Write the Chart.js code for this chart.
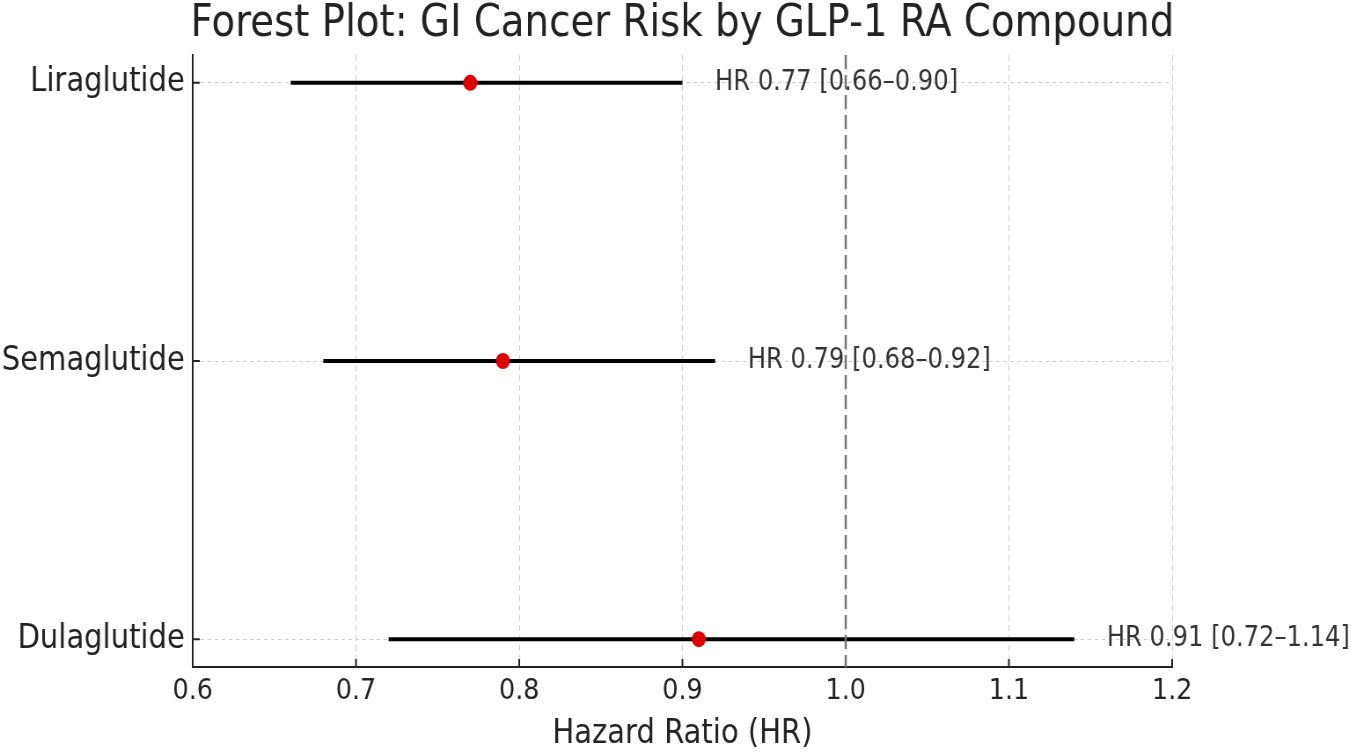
<!DOCTYPE html>
<html>
<head>
<meta charset="utf-8">
<title>Forest Plot: GI Cancer Risk by GLP-1 RA Compound</title>
<script src="https://cdn.jsdelivr.net/npm/chart.js@4.4.1/dist/chart.umd.min.js"></script>
<style>
    html, body { margin: 0; padding: 0; background: #fff; overflow: hidden; }
    /* the source figure is squeezed sideways, so draw wide and scale down */
    #wrap { width: 1535px; height: 754px; transform: scaleX(0.88); transform-origin: 0 0; }
</style>
</head>
<body>
<div id="wrap"><canvas id="forestChart" width="1535" height="754"></canvas></div>
<script>
// =====================
// Data
// =====================
const drugs = ['Liraglutide', 'Semaglutide', 'Dulaglutide'];
const hazardRatios = [0.77, 0.79, 0.91];
const ciLower = [0.66, 0.68, 0.72];
const ciUpper = [0.90, 0.92, 1.14];
const xTicks = [0.6, 0.7, 0.8, 0.9, 1.0, 1.1, 1.2];
const nullLine = 1.0;

const chartTitle = 'Forest Plot: GI Cancer Risk by GLP-1 RA Compound';
const FONT = "'DejaVu Sans', 'Liberation Sans', sans-serif";
const TEXT = '#222222';

// =====================
// Datasets
// =====================
function buildDatasets() {
    const ciSets = drugs.map((name, i) => ({
        type: 'line',
        label: name + ' CI',
        data: [{ x: ciLower[i], y: i }, { x: ciUpper[i], y: i }],
        borderColor: '#000000',
        borderWidth: 4,
        pointRadius: 0,
        order: 3
    }));

    const refLine = {
        type: 'line',
        label: 'HR = 1',
        data: [{ x: nullLine, y: -0.1 }, { x: nullLine, y: drugs.length - 1 + 0.1 }],
        borderColor: '#777777',
        borderWidth: 2.5,
        borderDash: [14, 6],
        pointRadius: 0,
        order: 2
    };

    const points = {
        type: 'scatter',
        label: 'HR',
        data: hazardRatios.map((hr, i) => ({ x: hr, y: i })),
        backgroundColor: '#dd0000',
        borderWidth: 0,
        pointRadius: 8,
        order: 1
    };

    return [...ciSets, refLine, points];
}

// =====================
// Plugins
// =====================
// title centred over the plot area, not the whole canvas
const plotTitle = {
    id: 'plotTitle',
    afterDraw(chart) {
        const { ctx, chartArea } = chart;
        ctx.save();
        ctx.font = '44px ' + FONT;
        ctx.fillStyle = TEXT;
        ctx.textAlign = 'center';
        ctx.textBaseline = 'middle';
        ctx.fillText(chartTitle, (chartArea.left + chartArea.right) / 2, 25);
        ctx.restore();
    }
};

// short inward tick marks, like the source
const innerTicks = {
    id: 'innerTicks',
    beforeDatasetsDraw(chart) {
        const { ctx, chartArea, scales } = chart;
        ctx.save();
        ctx.strokeStyle = TEXT;
        ctx.lineWidth = 2;
        ctx.beginPath();
        xTicks.forEach(v => {
            const x = scales.x.getPixelForValue(v);
            ctx.moveTo(x, chartArea.bottom);
            ctx.lineTo(x, chartArea.bottom - 8);
        });
        drugs.forEach((d, i) => {
            const y = scales.y.getPixelForValue(i);
            ctx.moveTo(chartArea.left, y);
            ctx.lineTo(chartArea.left + 8, y);
        });
        ctx.stroke();
        ctx.restore();
    }
};

// text next to each interval
const hrLabels = {
    id: 'hrLabels',
    afterDatasetsDraw(chart) {
        const { ctx, scales } = chart;
        ctx.save();
        ctx.font = '27.5px ' + FONT;
        ctx.fillStyle = '#333333';
        ctx.textAlign = 'left';
        ctx.textBaseline = 'middle';
        drugs.forEach((name, i) => {
            const text = 'HR ' + hazardRatios[i].toFixed(2) +
                ' [' + ciLower[i].toFixed(2) + '\u2013' + ciUpper[i].toFixed(2) + ']';
            const x = scales.x.getPixelForValue(ciUpper[i] + 0.02);
            const y = scales.y.getPixelForValue(i);
            ctx.fillText(text, x, y);
        });
        ctx.restore();
    }
};

// =====================
// Chart
// =====================
const ctx = document.getElementById('forestChart').getContext('2d');
new Chart(ctx, {
    type: 'scatter',
    data: { datasets: buildDatasets() },
    plugins: [plotTitle, innerTicks, hrLabels],
    options: {
        responsive: false,
        animation: false,
        layout: { padding: { left: 0, right: 203, top: 55, bottom: 0 } },
        plugins: {
            legend: { display: false },
            tooltip: { enabled: false },
            title: { display: false }
        },
        scales: {
            x: {
                type: 'linear',
                min: xTicks[0],
                max: xTicks[xTicks.length - 1],
                afterBuildTicks: scale => { scale.ticks = xTicks.map(v => ({ value: v })); },
                afterFit: scale => { scale.height = 87; },
                ticks: {
                    color: TEXT,
                    padding: 7,
                    font: { family: FONT, size: 29 },
                    callback: v => Number(v).toFixed(1)
                },
                grid: { color: '#cccccc', lineWidth: 1, drawTicks: false },
                border: { color: TEXT, width: 2, dash: [6, 4] },
                title: {
                    display: true,
                    text: 'Hazard Ratio (HR)',
                    color: TEXT,
                    font: { family: FONT, size: 33 },
                    padding: { top: 0, bottom: 0 }
                }
            },
            y: {
                type: 'linear',
                reverse: true,
                min: -0.1,
                max: drugs.length - 1 + 0.1,
                afterBuildTicks: scale => { scale.ticks = drugs.map((d, i) => ({ value: i })); },
                afterFit: scale => { scale.width = 219; },
                ticks: {
                    color: TEXT,
                    padding: 9,
                    font: { family: FONT, size: 33 },
                    callback: v => drugs[v]
                },
                grid: { color: '#cccccc', lineWidth: 1, drawTicks: false },
                border: { color: TEXT, width: 2, dash: [4, 4] }
            }
        }
    }
});
</script>
</body>
</html>
